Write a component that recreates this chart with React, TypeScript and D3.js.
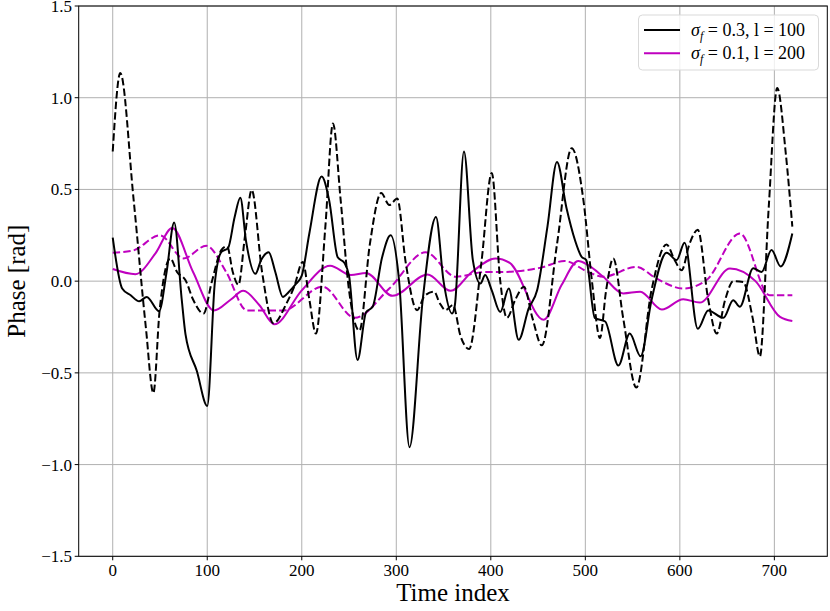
import React, { useEffect } from 'react';
import * as d3 from 'd3';

// key points [time index, phase]
const blackSolid: [number, number][] = [
  [0, 0.237], [10, -0.04], [19, -0.077], [28, -0.11], [36, -0.086], [49, -0.164],
  [57, 0.05], [65, 0.32], [73, -0.1], [77, -0.29], [89, -0.49], [100, -0.68],
  [108, -0.01], [115, 0.16], [122, 0.18], [129, 0.35], [135, 0.455], [141, 0.22],
  [151, 0.04], [157, 0.115], [165, 0.157], [172, 0.05], [180, -0.086], [186, -0.06],
  [193, -0.02], [200, 0.03], [208, 0.26], [221, 0.57], [229, 0.44], [238, 0.13],
  [245, 0.1], [250, 0.03], [259, -0.43], [268, -0.17], [275, -0.14], [285, 0.13],
  [294, 0.25], [303, 0.0], [314, -0.905], [328, -0.1], [342, 0.35], [350, 0.0],
  [359, -0.177], [362, -0.13], [371.6, 0.707], [381, 0.115], [389, -0.013],
  [394, 0.033], [401, -0.05], [410, -0.168], [419, -0.04], [429.5, -0.32],
  [440, -0.15], [449, -0.05], [460, 0.3], [470, 0.65], [480, 0.4], [489, 0.224],
  [496, 0.133], [501, 0.115], [510, -0.2], [521, -0.22], [535, -0.46], [547, -0.286],
  [558.5, -0.41], [570, -0.104], [586, 0.155], [596.6, 0.115], [605, 0.21],
  [619, -0.26], [630, -0.16], [646, -0.2], [656.5, -0.104], [663.5, -0.14],
  [677.6, 0.07], [686.5, 0.05], [697, 0.17], [706.6, 0.08], [719, 0.26],
];

const blackDashed: [number, number][] = [
  [0, 0.707], [8, 1.135], [22, 0.45], [35, -0.25],
  [43, -0.61], [49.6, -0.16], [61, 0.124], [68, 0.05], [77, 0.005], [85, -0.1],
  [96, -0.177], [105, 0.0], [115, 0.17], [121, 0.19], [127, 0.05], [133, -0.02],
  [140, 0.25], [147, 0.497], [158, 0.05], [170, -0.23], [184, -0.12], [192, -0.03],
  [201, 0.105], [208, -0.1], [215, -0.286], [225, 0.3], [233, 0.86], [241, 0.45],
  [250, -0.05], [261, -0.27], [272, 0.2], [284, 0.48], [292.6, 0.415], [301, 0.45],
  [310, 0.1], [322, -0.158], [330, -0.08], [340, -0.058], [346, -0.12],
  [352, -0.158], [360, -0.13], [368, -0.3], [377, -0.37], [390, 0.1], [401, 0.59],
  [410, 0.0], [417, -0.2], [426, -0.1], [435, -0.03], [444, -0.2], [454, -0.35],
  [470, 0.2], [485.6, 0.725], [498, 0.44], [507, 0.0], [515.5, -0.31], [522, -0.05],
  [529.6, 0.124], [540, -0.2], [554, -0.58], [570, -0.05], [586, 0.2], [594, 0.12],
  [602, 0.06], [610, 0.2], [619, 0.28], [630, -0.1], [639, -0.286], [648, -0.1],
  [656.5, 0.0], [667, -0.005], [677, -0.2], [684.7, -0.41], [694, 0.4],
  [703, 1.053], [712, 0.7], [719, 0.297],
];

const magentaSolid: [number, number][] = [
  [0, 0.066], [24, 0.038], [45, 0.15], [63, 0.29], [85, 0.05], [107, -0.16],
  [125, -0.1], [138, -0.053], [155, -0.13], [171, -0.235], [200, -0.05],
  [230, 0.084], [252, 0.033], [268, 0.045], [296, -0.08], [333, 0.036],
  [357.5, -0.053], [380, 0.05], [405, 0.124], [420, 0.1], [456, -0.21],
  [475, -0.02], [492.6, 0.11], [503, 0.087], [519, 0.024], [540, -0.067],
  [558, -0.058], [581, -0.155], [603.6, -0.098], [621, -0.117], [653, 0.069],
  [680, 0.0], [706, -0.195], [719, -0.217],
];

const magentaDashed: [number, number][] = [
  [0, 0.155], [21, 0.166], [50, 0.25], [75, 0.124], [99, 0.193], [120, 0.05],
  [142, -0.16], [180, -0.16], [222, -0.03], [256, -0.2], [292.6, -0.04],
  [331, 0.157], [363, 0.024], [394, 0.05], [411, 0.05], [454, 0.075],
  [478, 0.11], [503, 0.05], [519, 0.024], [554, 0.078], [575, 0.015],
  [603.6, -0.04], [628, 0.005], [663.5, 0.26], [695, -0.077], [719, -0.077],
];

const xTicks = [0, 100, 200, 300, 400, 500, 600, 700];
const yTicks = [-1.5, -1.0, -0.5, 0.0, 0.5, 1.0, 1.5];

const legendLabels = [
  { color: '#000000', value: '0.3', len: '100' },
  { color: '#bf00bf', value: '0.1', len: '200' },
];

const W = 830;
const H = 611;
const left = 78.7;
const right = 827.3;
const top = 6;
const bottom = 556.3;
const FONT = '"Liberation Serif", "DejaVu Serif", serif';

const App: React.FC = () => {
  useEffect(() => {
    document.body.style.margin = '0';
  }, []);

  const x = d3.scaleLinear().domain([-36, 756]).range([left, right]);
  const y = d3.scaleLinear().domain([-1.5, 1.5]).range([bottom, top]);

  const line = d3
    .line<[number, number]>()
    .x(d => x(d[0]))
    .y(d => y(d[1]))
    .curve(d3.curveMonotoneX);

  const fmt = (v: number) => (v < 0 ? '\u2212' : '') + Math.abs(v).toFixed(1);

  const series = [
    { data: magentaDashed, color: '#bf00bf', dash: '7.4,3.2' },
    { data: magentaSolid, color: '#bf00bf', dash: undefined },
    { data: blackDashed, color: '#000000', dash: '7.4,3.2' },
    { data: blackSolid, color: '#000000', dash: undefined },
  ];

  return (
    <svg width={W} height={H} style={{ display: 'block', background: '#fff' }} fontFamily={FONT}>
      <defs>
        <clipPath id="plot">
          <rect x={left} y={top} width={right - left} height={bottom - top} />
        </clipPath>
      </defs>

      {/* grid */}
      {xTicks.map(t => (
        <line key={'gx' + t} x1={x(t)} x2={x(t)} y1={top} y2={bottom} stroke="#b0b0b0" strokeWidth={1} />
      ))}
      {yTicks.map(t => (
        <line key={'gy' + t} x1={left} x2={right} y1={y(t)} y2={y(t)} stroke="#b0b0b0" strokeWidth={1} />
      ))}

      {/* series */}
      <g clipPath="url(#plot)">
        {series.map((s, i) => (
          <path
            key={i}
            d={line(s.data) || ''}
            fill="none"
            stroke={s.color}
            strokeWidth={2}
            strokeDasharray={s.dash}
            strokeLinejoin="round"
          />
        ))}
      </g>

      {/* frame */}
      <rect x={left} y={top} width={right - left} height={bottom - top} fill="none" stroke="#000" strokeWidth={1} />

      {/* x ticks */}
      {xTicks.map(t => (
        <g key={'tx' + t}>
          <line x1={x(t)} x2={x(t)} y1={bottom} y2={bottom + 4} stroke="#000" strokeWidth={1} />
          <text x={x(t)} y={576} textAnchor="middle" fontSize={17} fill="#000">
            {t}
          </text>
        </g>
      ))}

      {/* y ticks */}
      {yTicks.map(t => (
        <g key={'ty' + t}>
          <line x1={left - 4} x2={left} y1={y(t)} y2={y(t)} stroke="#000" strokeWidth={1} />
          <text x={72} y={y(t) + 6} textAnchor="end" fontSize={17} fill="#000">
            {fmt(t)}
          </text>
        </g>
      ))}

      {/* axis titles */}
      <text x={(left + right) / 2} y={601} textAnchor="middle" fontSize={25} fill="#000">
        Time index
      </text>
      <text
        transform={`translate(25, ${(top + bottom) / 2}) rotate(-90)`}
        textAnchor="middle"
        fontSize={25}
        fill="#000"
      >
        Phase [rad]
      </text>

      {/* legend */}
      <g>
        <rect x={638.5} y={15} width={180} height={55} rx={4} fill="#fff" fillOpacity={0.8} stroke="#d9d9d9" strokeWidth={1} />
        {legendLabels.map((l, i) => {
          const cy = 30 + i * 23.3;
          return (
            <g key={i}>
              <line x1={644} x2={680} y1={cy} y2={cy} stroke={l.color} strokeWidth={2} />
              <text x={691} y={cy + 6} fontSize={18} fill="#000">
                <tspan fontStyle="italic">σ</tspan>
                <tspan fontStyle="italic" fontSize={12} dy={4}>f</tspan>
                <tspan dy={-4}>{` = ${l.value}, l = ${l.len}`}</tspan>
              </text>
            </g>
          );
        })}
      </g>
    </svg>
  );
};

export default App;
